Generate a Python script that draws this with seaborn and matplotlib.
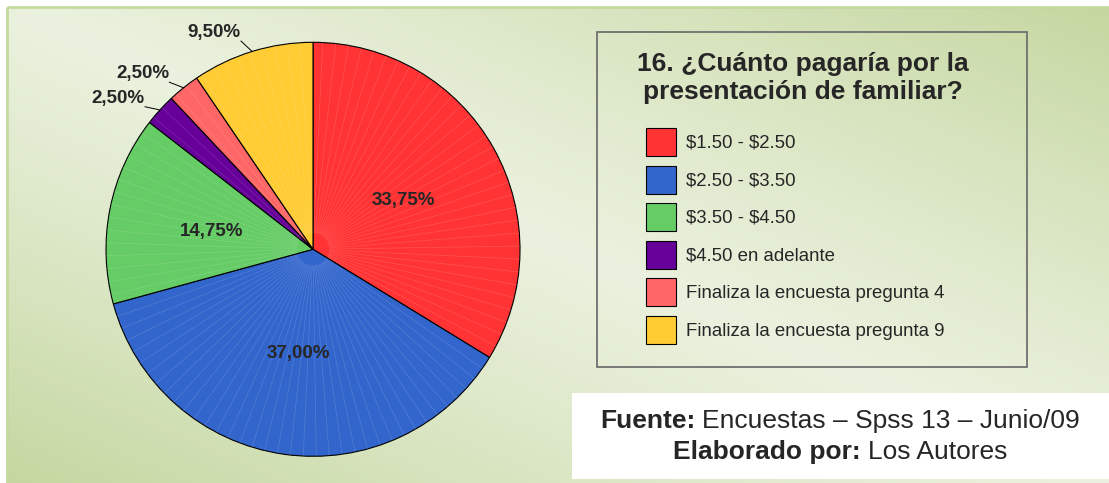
import numpy as np
import matplotlib
matplotlib.use("Agg")
import matplotlib.pyplot as plt
import seaborn as sns
from matplotlib.patches import Rectangle

sns.set_style("white")
plt.rcParams['font.family'] = ['Liberation Sans', 'DejaVu Sans']

# datos de la pregunta 16
categorias = ['$1.50 - $2.50', '$2.50 - $3.50', '$3.50 - $4.50',
              '$4.50 en adelante', 'Finaliza la encuesta pregunta 4',
              'Finaliza la encuesta pregunta 9']
porcentajes = [33.75, 37.00, 14.75, 2.50, 2.50, 9.50]
colores = ['#FF3333', '#3366CC', '#66CC66', '#660099', '#FF6666', '#FFCC33']
etiqueta_fuera = [False, False, False, True, True, True]
titulo = '16. ¿Cuánto pagaría por la\npresentación de familiar?'

W, H = 1109, 483
fig = plt.figure(figsize=(W / 100, H / 100), dpi=100)
fig.patch.set_facecolor('white')

# fondo con degradado
bg = fig.add_axes([0, 0, 1, 1])
bg.set_xlim(0, W)
bg.set_ylim(H, 0)
bg.axis('off')
yy, xx = np.mgrid[7:H:1.0, 7:W:1.0]
d = np.abs(1102 * (yy - 7) - 476 * (xx - 7)) / np.hypot(1102, 476)
t = np.clip(d / 437, 0, 1) ** 1.2
claro = np.array([0.918, 0.945, 0.870])
oscuro = np.array([0.773, 0.843, 0.627])
img = claro * (1 - t[..., None]) + oscuro * t[..., None]
bg.imshow(img, extent=(7, W, H, 7), aspect='auto', interpolation='bilinear')
bg.add_patch(Rectangle((7, 7), W, H, fill=False, edgecolor='#c3d9a0', lw=2))

# caja de la leyenda
bg.add_patch(Rectangle((597, 32), 430, 335, fill=False, edgecolor='#707070', lw=1.3))
bg.text(803, 78, titulo, ha='center', va='center', fontsize=19,
        fontweight='bold', linespacing=1.25)

# caja de la fuente
bg.add_patch(Rectangle((572, 393), W - 572, 86, facecolor='white', edgecolor='none'))
renderer = fig.canvas.get_renderer()


def linea_mixta(xc, y, negrita, normal, size):
    t1 = bg.text(0, y, negrita, fontsize=size, fontweight='bold', va='center')
    t2 = bg.text(0, y, normal, fontsize=size, va='center')
    w1 = t1.get_window_extent(renderer).width
    w2 = t2.get_window_extent(renderer).width
    gap = 0.28 * size * 100 / 72
    x0 = xc - (w1 + gap + w2) / 2
    t1.set_x(x0)
    t2.set_x(x0 + w1 + gap)


linea_mixta(840, 421, 'Fuente:', 'Encuestas – Spss 13 – Junio/09', 19)
linea_mixta(840, 452, 'Elaborado por:', 'Los Autores', 19)

# pastel
cx, cy, R = 313, 249.3, 207
lado = R * 2.2
ax = fig.add_axes([(cx - lado / 2) / W, (H - cy - lado / 2) / H, lado / W, lado / H])
ax.set_facecolor('none')
wedges, _ = ax.pie(porcentajes, colors=sns.color_palette(colores), startangle=90,
                   counterclock=False, radius=1,
                   wedgeprops=dict(edgecolor='black', linewidth=0.8))
ax.set_xlim(-1.1, 1.1)
ax.set_ylim(-1.1, 1.1)
ax.set_aspect('equal')
ax.axis('off')

for w, p, fuera in zip(wedges, porcentajes, etiqueta_fuera):
    # textura de rayas claras
    for a in np.arange(w.theta1, w.theta2, 3.6)[1:]:
        r = np.deg2rad(a)
        ax.plot([0.08 * np.cos(r), np.cos(r)], [0.08 * np.sin(r), np.sin(r)],
                color='white', alpha=0.15, lw=0.5)
    texto = f'{p:.2f}%'.replace('.', ',')
    mid = np.deg2rad((w.theta1 + w.theta2) / 2)
    if not fuera:
        ax.text(0.5 * np.cos(mid), 0.5 * np.sin(mid), texto, ha='center',
                va='center_baseline', fontsize=13.5, fontweight='bold')
    else:
        a2 = mid + np.deg2rad(2)
        x1, y1 = 1.065 * np.cos(a2), 1.065 * np.sin(a2)
        ax.plot([np.cos(mid), x1], [np.sin(mid), y1], color='black', lw=0.7)
        ax.text(x1, y1, texto, ha='right', va='bottom', fontsize=13.5, fontweight='bold')

etiquetas = [c.replace('$', r'\$') for c in categorias]
fig.legend(wedges, etiquetas, loc='upper left',
           bbox_to_anchor=(646 / W, 1 - 128 / H), frameon=False, fontsize=13.4,
           handlelength=1.6, handleheight=1.94, labelspacing=0.51,
           handletextpad=0.55, borderpad=0, borderaxespad=0)

fig.savefig('out.png', dpi=100)
